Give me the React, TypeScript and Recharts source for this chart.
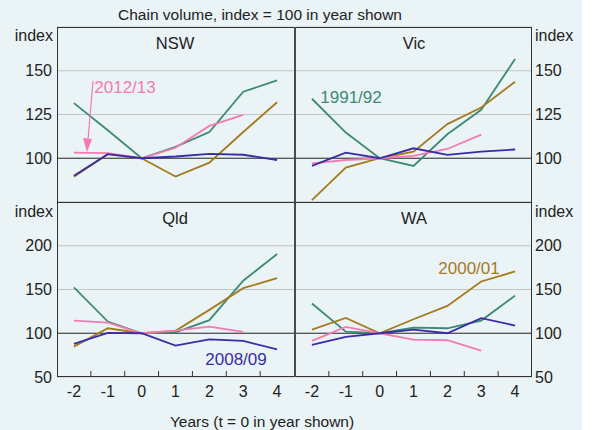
import React from "react";
import { LineChart, Line, XAxis, YAxis, CartesianGrid, ReferenceLine } from "recharts";

const years = [-2, -1, 0, 1, 2, 3, 4];
const xTicks = [-2, -1.5, -1, -0.5, 0, 0.5, 1, 1.5, 2, 2.5, 3, 3.5, 4];

// NSW
const nsw1991 = [131.5, 116, 100, 106.5, 115, 138, 144.5];
const nsw2000 = [89.5, 102.3, 100, 89.5, 97.5, 115, 132];
const nsw2008 = [90, 102.3, 100, 101, 102.5, 102, 99];
const nsw2012 = [103.2, 102.9, 100, 106, 118.5, 124.8, null];

// Vic
const vic1991 = [134, 114.7, 100, 95.6, 113.7, 127.7, 156.7];
const vic2000 = [76.1, 94.7, 100, 103.8, 119.5, 129, 143.7];
const vic2008 = [95.6, 103.2, 100, 105.7, 101.9, 103.8, 105];
const vic2012 = [97.1, 99, 100, 101.3, 105.3, 113.5, null];

// Qld
const qld1991 = [152.3, 113.4, 100, 101, 115, 160, 190.5];
const qld2000 = [84.7, 105.7, 100, 102.7, 126.7, 151.5, 163];
const qld2008 = [87.8, 100.4, 100, 85.9, 93.1, 91.2, 81.7];
const qld2012 = [114.5, 112.2, 100, 103, 107.6, 101.5, null];

// WA
const wa1991 = [134, 101.9, 100, 106.5, 105.7, 114.5, 143];
const wa2000 = [104.2, 117.6, 100, 116, 131.3, 159.2, 170.6];
const wa2008 = [86.6, 95.8, 100, 104.2, 100, 117.2, 108.8];
const wa2012 = [91.2, 107.3, 100, 92.7, 92, 80.2, null];

const topTicks = [100, 125, 150];
const bottomTicks = [50, 100, 150, 200];

const COLORS = {
  b1991: "#3d8a74",
  b2000: "#a67a1e",
  b2008: "#3b2ca6",
  b2012: "#f57ab3",
};

const FONT = "'Liberation Sans', Arial, sans-serif";
const TEXT = "#222";

function rows(a: (number | null)[], b: (number | null)[], c: (number | null)[], d: (number | null)[]) {
  return years.map((t, i) => ({ t, b1991: a[i], b2000: b[i], b2008: c[i], b2012: d[i] }));
}

const XTick = (props: any) => {
  const { x, y, payload } = props;
  if (Number.isInteger(payload.value)) {
    return (
      <text x={x} y={y + 9} dy="0.71em" textAnchor="middle" fill={TEXT} fontSize={16} fontFamily={FONT}>
        {payload.value}
      </text>
    );
  }
  return <line x1={x} x2={x} y1={y} y2={y - 6} stroke="#333" strokeWidth={1} />;
};

interface PanelProps {
  data: any[];
  side: "left" | "right";
  row: "top" | "bottom";
  domain: [number, number];
  ticks: number[];
}

function Panel({ data, side, row, domain, ticks }: PanelProps) {
  const margin = {
    top: row === "top" ? 27 : 202,
    bottom: row === "top" ? 430 - 202 : 430 - 377 - 30,
    left: side === "left" ? 7 : 295,
    right: side === "left" ? 592 - 294 : 592 - 532 - 50,
  };
  return (
    <div style={{ position: "absolute", left: 0, top: 0 }}>
      <LineChart width={592} height={430} data={data} margin={margin}>
        <CartesianGrid vertical={false} stroke="#c3c6c8" strokeWidth={1.2} />
        <XAxis
          dataKey="t"
          type="number"
          domain={[-2.5, 4.5]}
          ticks={xTicks}
          interval={0}
          hide={row === "top"}
          height={30}
          axisLine={false}
          tickLine={false}
          tickSize={0}
          tickMargin={0}
          tick={<XTick />}
        />
        <YAxis
          orientation={side}
          width={50}
          domain={domain}
          ticks={ticks}
          interval={0}
          allowDataOverflow
          axisLine={false}
          tickLine={false}
          tickSize={0}
          tickMargin={side === "left" ? 5 : 3}
          tick={{ fill: TEXT, fontSize: 16, fontFamily: FONT }}
        />
        <ReferenceLine y={100} stroke="#333" strokeWidth={1} />
        <Line dataKey="b1991" stroke={COLORS.b1991} strokeWidth={1.8} dot={false} isAnimationActive={false} />
        <Line dataKey="b2000" stroke={COLORS.b2000} strokeWidth={1.8} dot={false} isAnimationActive={false} />
        <Line dataKey="b2012" stroke={COLORS.b2012} strokeWidth={1.8} dot={false} isAnimationActive={false} />
        <Line dataKey="b2008" stroke={COLORS.b2008} strokeWidth={1.8} dot={false} isAnimationActive={false} />
      </LineChart>
    </div>
  );
}

const Txt = ({ x, y, children, size = 16, color = TEXT, align = "center" }: any) => {
  const tx = align === "center" ? "-50%" : align === "right" ? "-100%" : "0";
  return (
    <div
      style={{
        position: "absolute",
        left: x,
        top: y,
        transform: `translate(${tx}, -50%)`,
        fontSize: size,
        lineHeight: 1,
        color,
        fontFamily: FONT,
        whiteSpace: "nowrap",
      }}
    >
      {children}
    </div>
  );
};

export default function App() {
  return (
    <div style={{ position: "absolute", left: 0, top: 0, width: 592, height: 430, background: "#fff", overflow: "hidden" }}>
      <div style={{ position: "absolute", left: 0, top: 0, width: 582, height: 430, background: "#eaf3f6" }} />
      <Panel data={rows(nsw1991, nsw2000, nsw2008, nsw2012)} side="left" row="top" domain={[75, 175]} ticks={topTicks} />
      <Panel data={rows(vic1991, vic2000, vic2008, vic2012)} side="right" row="top" domain={[75, 175]} ticks={topTicks} />
      <Panel data={rows(qld1991, qld2000, qld2008, qld2012)} side="left" row="bottom" domain={[50, 250]} ticks={bottomTicks} />
      <Panel data={rows(wa1991, wa2000, wa2008, wa2012)} side="right" row="bottom" domain={[50, 250]} ticks={bottomTicks} />

      {/* panel frames */}
      <div style={{ position: "absolute", left: 57, top: 27, width: 475, height: 350, border: "1px solid #333", boxSizing: "border-box" }} />
      <div style={{ position: "absolute", left: 57, top: 202, width: 475, height: 1, background: "#333" }} />
      <div style={{ position: "absolute", left: 294, top: 27, width: 2, height: 350, background: "#4a4a4a" }} />

      {/* arrow for 2012/13 */}
      <svg style={{ position: "absolute", left: 0, top: 0 }} width={592} height={430}>
        <line x1={93} y1={81} x2={88} y2={140} stroke={COLORS.b2012} strokeWidth={1.2} />
        <polygon points="87,152 83,138 92,139" fill={COLORS.b2012} />
      </svg>

      <Txt x={260} y={15} size={15.5}>Chain volume, index = 100 in year shown</Txt>
      <Txt x={262} y={422} size={15.5}>Years (t = 0 in year shown)</Txt>

      <Txt x={53} y={36} align="right">index</Txt>
      <Txt x={53} y={212} align="right">index</Txt>
      <Txt x={535} y={36} align="left">index</Txt>
      <Txt x={535} y={212} align="left">index</Txt>

      <Txt x={175} y={43} size={16.5}>NSW</Txt>
      <Txt x={414} y={43} size={16.5}>Vic</Txt>
      <Txt x={175} y={218} size={16.5}>Qld</Txt>
      <Txt x={414} y={218} size={16.5}>WA</Txt>

      <Txt x={125} y={87} size={17} color={COLORS.b2012}>2012/13</Txt>
      <Txt x={351} y={97} size={17} color={COLORS.b1991}>1991/92</Txt>
      <Txt x={236} y={359} size={17} color={COLORS.b2008}>2008/09</Txt>
      <Txt x={469} y={268} size={17} color={COLORS.b2000}>2000/01</Txt>
    </div>
  );
}
